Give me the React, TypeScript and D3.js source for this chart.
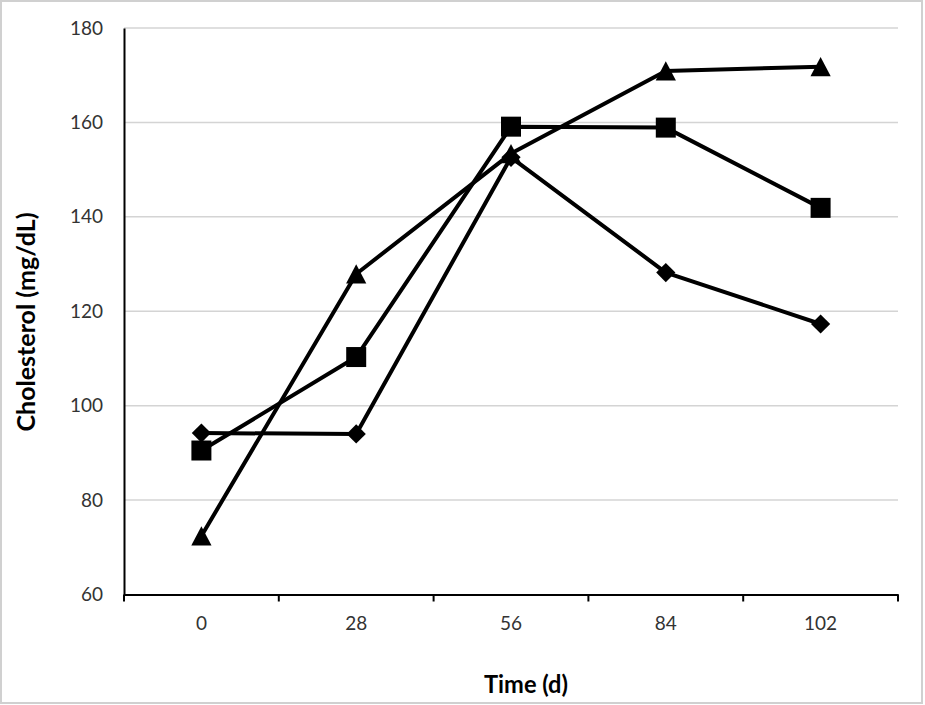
import { useEffect, useRef } from 'react';
import * as d3 from 'd3';

// time points (days) and the three series (mg/dL)
const days = ['0', '28', '56', '84', '102'];
const diamondSeries = [94.2, 94.0, 152.6, 128.2, 117.3];
const squareSeries = [90.5, 110.3, 159.1, 158.9, 141.9];
const triangleSeries = [72.4, 127.9, 153.4, 170.9, 171.8];
const yTicks = [60, 80, 100, 120, 140, 160, 180];

const W = 925;
const H = 705;
const margin = { top: 28, right: 27, bottom: 110.5, left: 124 };
const FONT = 'Lato, "Open Sans", sans-serif';

// excel-style triangle: centred on its bounding box
const triangle = {
  draw(ctx: any, size: number) {
    const w = Math.sqrt(size);
    const h = w * 0.95;
    ctx.moveTo(0, -h / 2);
    ctx.lineTo(w / 2, h / 2);
    ctx.lineTo(-w / 2, h / 2);
    ctx.closePath();
  },
};

export default function App() {
  const svgRef = useRef<SVGSVGElement | null>(null);

  useEffect(() => {
    if (!svgRef.current) return;
    const svg = d3.select(svgRef.current);
    svg.selectAll('*').remove();

    const x = d3.scaleBand().domain(days).range([margin.left, W - margin.right]).padding(0);
    const y = d3.scaleLinear().domain([60, 180]).range([H - margin.bottom, margin.top]);

    // outer chart border
    svg.append('rect')
      .attr('x', 1).attr('y', 1)
      .attr('width', 921).attr('height', 702)
      .attr('fill', '#fff')
      .attr('stroke', '#d0d0d0')
      .attr('stroke-width', 2);

    // gridlines
    svg.append('g')
      .selectAll('line')
      .data(yTicks.slice(1))
      .join('line')
      .attr('x1', margin.left).attr('x2', W - margin.right)
      .attr('y1', d => y(d)).attr('y2', d => y(d))
      .attr('stroke', '#d4d4d4')
      .attr('stroke-width', 1.5);

    // y axis
    const yAxis = svg.append('g')
      .attr('transform', `translate(${margin.left},0)`)
      .call(d3.axisLeft(y).tickValues(yTicks).tickSize(0).tickPadding(21));
    yAxis.select('.domain').attr('stroke', '#000').attr('stroke-width', 2);
    yAxis.selectAll('text')
      .attr('font-family', FONT)
      .attr('font-size', 19)
      .attr('fill', '#333');

    // x axis, ticks at band boundaries
    const xAxis = svg.append('g')
      .attr('transform', `translate(0,${H - margin.bottom})`)
      .call(d3.axisBottom(x).tickSize(0).tickPadding(22));
    xAxis.select('.domain').attr('stroke', '#000').attr('stroke-width', 2);
    xAxis.selectAll('text')
      .attr('font-family', FONT)
      .attr('font-size', 19)
      .attr('fill', '#333');
    const bounds = days.map(d => x(d) || 0).concat([W - margin.right]);
    xAxis.append('g')
      .selectAll('line')
      .data(bounds)
      .join('line')
      .attr('x1', d => d).attr('x2', d => d)
      .attr('y1', 0).attr('y2', 7)
      .attr('stroke', '#000')
      .attr('stroke-width', 2);
    xAxis.append('line')
      .attr('x1', -3).attr('x2', 0)
      .attr('stroke', '#000').attr('stroke-width', 2);

    const cx = (d: string) => (x(d) || 0) + x.bandwidth() / 2;
    const line = d3.line<number>()
      .x((_, i) => cx(days[i]))
      .y(v => y(v));

    const series = [
      { values: diamondSeries, symbol: d3.symbolSquare, size: 185, rotate: 45 },
      { values: squareSeries, symbol: d3.symbolSquare, size: 400, rotate: 0 },
      { values: triangleSeries, symbol: triangle, size: 410, rotate: 0 },
    ];

    series.forEach(s => {
      svg.append('path')
        .datum(s.values)
        .attr('d', line)
        .attr('fill', 'none')
        .attr('stroke', '#000')
        .attr('stroke-width', 4)
        .attr('stroke-linejoin', 'round');
      svg.append('g')
        .selectAll('path')
        .data(s.values)
        .join('path')
        .attr('d', d3.symbol(s.symbol as any, s.size)())
        .attr('transform', (v, i) => `translate(${cx(days[i])},${y(v)}) rotate(${s.rotate})`)
        .attr('fill', '#000');
    });

    // axis titles
    svg.append('text')
      .attr('transform', 'translate(29,322) rotate(-90)')
      .attr('text-anchor', 'middle')
      .attr('dominant-baseline', 'middle')
      .attr('font-family', FONT)
      .attr('font-weight', 'bold')
      .attr('font-size', 24)
      .attr('textLength', 219)
      .attr('lengthAdjust', 'spacingAndGlyphs')
      .attr('fill', '#000')
      .text('Cholesterol (mg/dL)');

    svg.append('text')
      .attr('x', 526)
      .attr('y', 687)
      .attr('text-anchor', 'middle')
      .attr('dominant-baseline', 'middle')
      .attr('font-family', FONT)
      .attr('font-weight', 'bold')
      .attr('font-size', 24)
      .attr('textLength', 84)
      .attr('lengthAdjust', 'spacingAndGlyphs')
      .attr('fill', '#000')
      .text('Time (d)');
  }, []);

  return (
    <svg
      ref={svgRef}
      width={W}
      height={H}
      style={{ position: 'absolute', left: 0, top: 0, background: '#fff' }}
    />
  );
}
